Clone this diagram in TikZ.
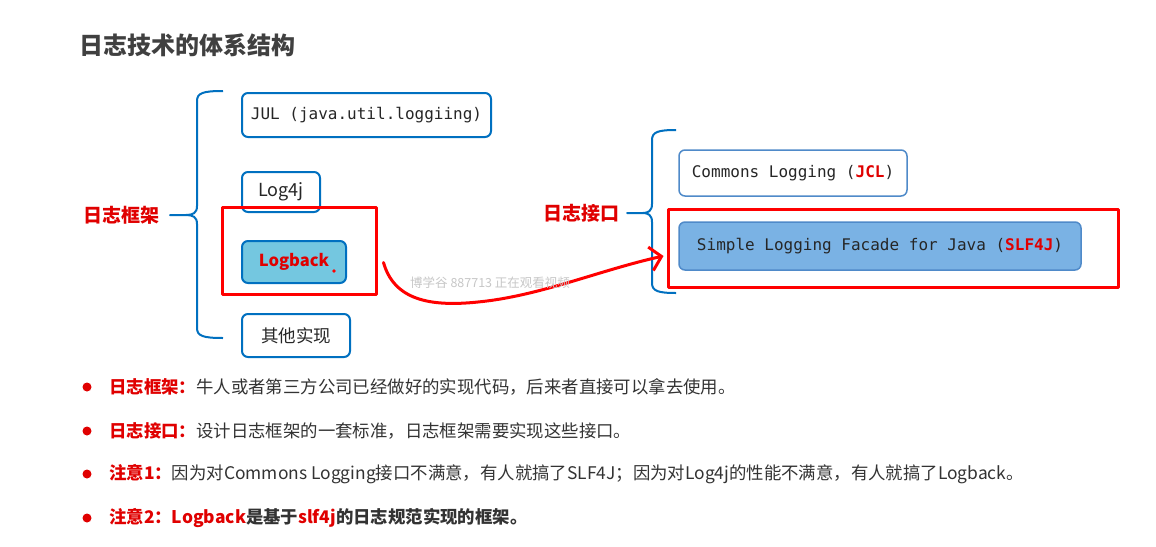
\documentclass[tikz,border=0pt]{standalone}
\usepackage{fontspec}
\setmainfont{Noto Sans CJK SC}
\newfontfamily\monof{DejaVu Sans Mono}
\usepackage{tikz}
\usetikzlibrary{calc,arrows.meta}
\definecolor{framblue}{HTML}{0070C0}
\definecolor{ifblue}{HTML}{4F8AC9}
\definecolor{logfill}{HTML}{74C7E0}
\definecolor{slffill}{HTML}{7AB2E4}
\definecolor{notered}{HTML}{E00000}
\definecolor{bodygray}{HTML}{333333}
\definecolor{titlegray}{HTML}{404040}

\begin{document}
\begin{tikzpicture}[x=1pt,y=-1pt,line join=round,
  fbox/.style={draw=framblue,line width=2pt,rounded corners=6pt,inner sep=0pt,fill=white,text=black!85},
  ibox/.style={draw=ifblue,line width=1.5pt,rounded corners=6pt,inner sep=0pt,fill=white,text=black!85},
  redframe/.style={draw=red,line width=3pt,inner sep=0pt},
  bracepen/.style={draw=framblue,line width=2pt},
  redpen/.style={draw=red,line width=3pt,line cap=round},
  monotxt/.style={font=\fontsize{16}{19}\selectfont\monof},
  note/.style={anchor=west,inner sep=0pt,text=bodygray,font=\fontsize{17.4}{20}\selectfont}]
  \path[fill=white,use as bounding box] (0,0) rectangle (1156,546);
  % title
  \node[anchor=west,inner sep=0pt,text=titlegray,font=\fontsize{24}{28}\selectfont\bfseries] (title) at (79,45) {日志技术的体系结构};
  % braces
  \foreach \bx/\ya/\yb/\ym/\tipx/\endx in {197/91/338/215/170/223, 652/130/293/213/627/676} {
    \draw[bracepen] (\endx,\ya) .. controls (\bx+6,\ya) and (\bx,\ya+2) .. (\bx,\ya+10) -- (\bx,\ym-9)
      .. controls (\bx,\ym-2) and (\bx-4,\ym) .. (\tipx+16,\ym) -- (\tipx,\ym) -- (\tipx+16,\ym)
      .. controls (\bx-4,\ym) and (\bx,\ym+2) .. (\bx,\ym+9) -- (\bx,\yb-10)
      .. controls (\bx,\yb-2) and (\bx+6,\yb) .. (\endx,\yb);
  }
  \node[text=notered,font=\fontsize{19}{22}\selectfont\bfseries] (fwlabel) at (121,215) {日志框架};
  \node[text=notered,font=\fontsize{19}{22}\selectfont\bfseries] (iflabel) at (581,213) {日志接口};
  % frameworks
  \node[fbox,monotxt,minimum width=249,minimum height=44] (jul) at (366.5,115) {JUL (java.util.loggiing)};
  \node[fbox,font=\fontsize{18}{21}\selectfont,minimum width=78,minimum height=40] (log4j) at (281,192) {Log4j};
  \node[fbox,fill=logfill,text=notered,font=\fontsize{16.5}{20}\selectfont\bfseries,minimum width=104,minimum height=42] (logback) at (294,262) {Logback};
  \fill[red] (334,271) circle (1.8);
  \node[fbox,font=\fontsize{17.5}{21}\selectfont,minimum width=108,minimum height=43] (other) at (296,335.5) {其他实现};
  \node[redframe,minimum width=154,minimum height=87] (fwsel) at (299,250.5) {};
  % interfaces
  \node[ibox,monotxt,minimum width=228,minimum height=46] (jcl) at (793,173) {Commons Logging (\textcolor{notered}{\bfseries JCL})};
  \node[ibox,fill=slffill,monotxt,minimum width=402,minimum height=48] (slf) at (880,246) {Simple Logging Facade for Java (\textcolor{notered}{\bfseries SLF4J})};
  \node[redframe,minimum width=450,minimum height=78] (ifsel) at (893,248) {};
  % hand drawn arrow
  \coordinate (arrstart) at ($(fwsel.east)+(6,12)$);
  \coordinate (arrend) at ($(ifsel.west)+(-3,8)$);
  \draw[redpen,-{Straight Barb[length=11pt,width=24pt,line width=3pt]}] (arrstart) .. controls (394,300) and (430,307) .. (478,302)
    .. controls (540,296) and (600,270) .. (arrend);
  \node[anchor=west,inner sep=0pt,text=black!22,font=\fontsize{12.5}{14}\selectfont] (wmark) at (410,283) {博学谷 887713 正在观看视频};
  % notes
  \foreach \yy/\head/\body in {387/日志框架：/{牛人或者第三方公司已经做好的实现代码，后来者直接可以拿去使用。},
      431/日志接口：/{设计日志框架的一套标准，日志框架需要实现这些接口。},
      474/注意1：/{因为对Commons Logging接口不满意，有人就搞了SLF4J；因为对Log4j的性能不满意，有人就搞了Logback。},
      518/注意2：/{\bfseries\textcolor{notered}{Logback}是基于\textcolor{notered}{slf4j}的日志规范实现的框架。}} {
    \fill[notered] (87,\yy) circle (4.5);
    \node[note] (n\yy) at (109,\yy) {\textcolor{notered}{\bfseries\head}\body};
  }
\end{tikzpicture}
\end{document}
